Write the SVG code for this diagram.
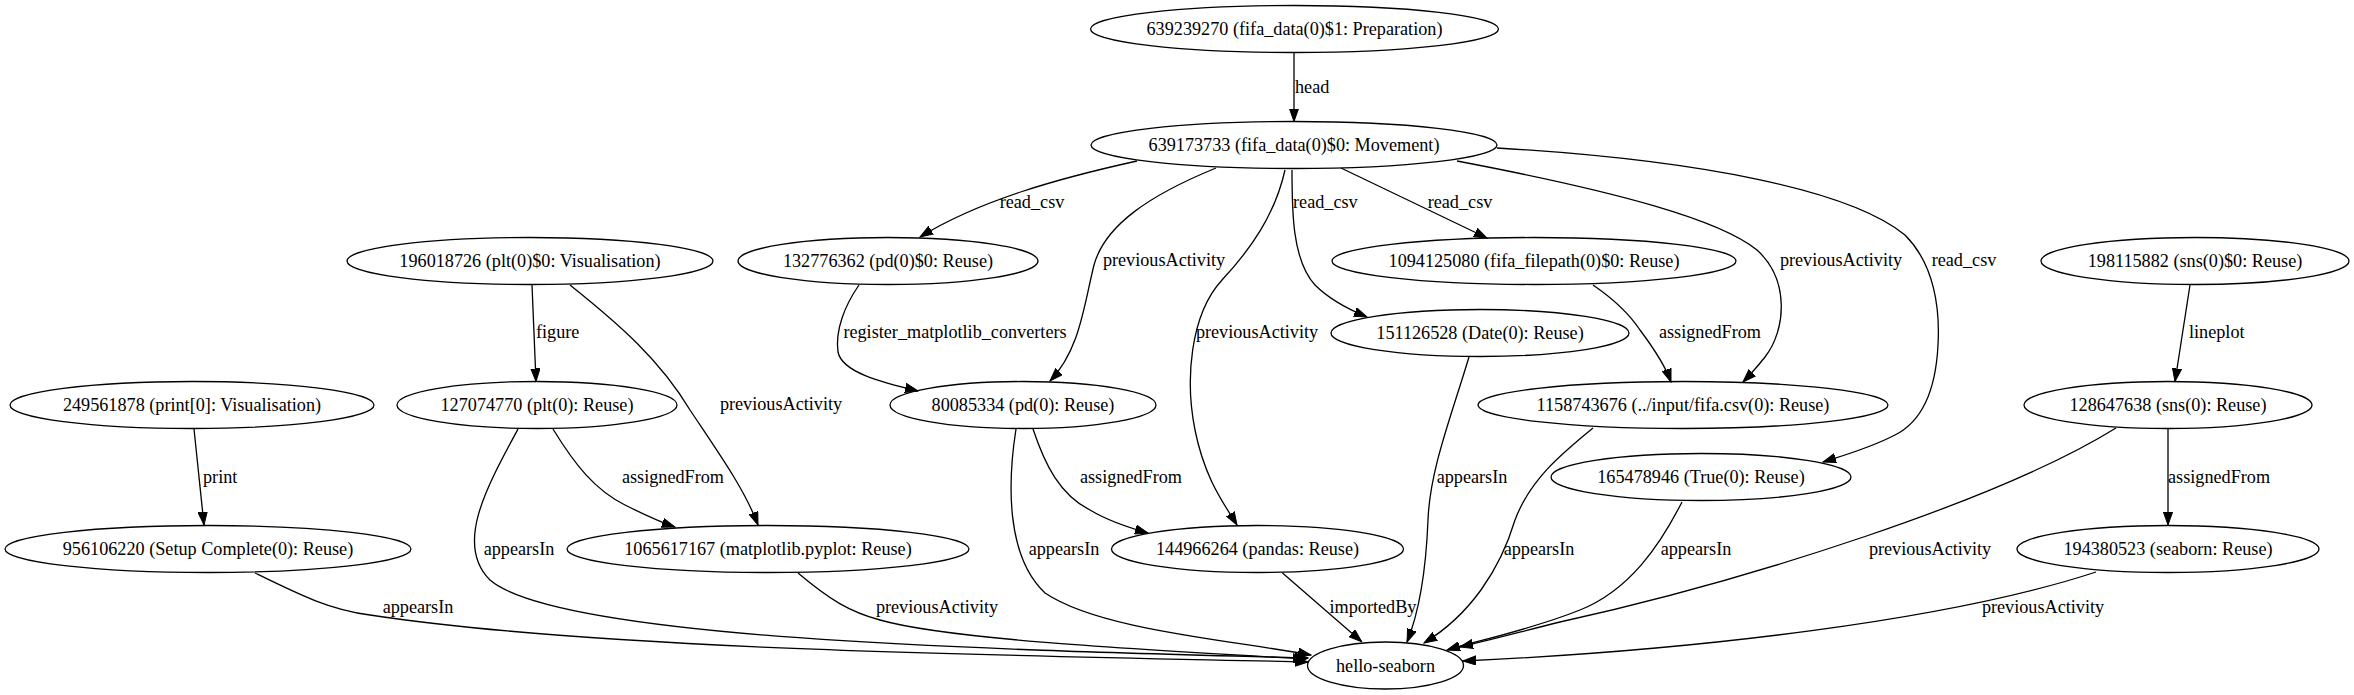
<svg xmlns="http://www.w3.org/2000/svg" width="2354" height="695" viewBox="0 0 2354 695">
<defs>
<style>
.n ellipse{fill:none;stroke:#000;stroke-width:1.3}
text{font-family:"Liberation Serif","Times New Roman",serif;font-size:18.2px;fill:#000}
.n text{text-anchor:middle}
.e path{fill:none;stroke:#000;stroke-width:1.3;marker-end:url(#arr)}
.c{text-anchor:middle}
</style>
<marker id="arr" markerWidth="14" markerHeight="10" refX="13" refY="5" orient="auto" markerUnits="userSpaceOnUse"><path d="M0,0.4 L13,5 L0,9.6 z" fill="#000" stroke="#000" stroke-width="1"/></marker>
</defs>
<rect width="2354" height="695" fill="#fff"/>
<g id="edges" class="e">
<path d="M1294,53 L1294,121.5"/>
<text x="1295" y="93">head</text>
<path d="M1137,161 C1060,178 980,200 920,237"/>
<text class="c" x="1032" y="208">read_csv</text>
<path d="M1216,168 C1150,195 1105,225 1094,265 C1084,305 1080,350 1050,381"/>
<text class="c" x="1164" y="266">previousActivity</text>
<path d="M1285,170 C1275,215 1250,250 1222,280 C1190,315 1185,380 1195,430 C1205,480 1225,505 1237,525"/>
<text class="c" x="1257" y="338">previousActivity</text>
<path d="M1292,170 C1292,210 1292,260 1315,285 C1330,300 1350,310 1367,317"/>
<text x="1293" y="208">read_csv</text>
<path d="M1341,168 L1487,238"/>
<text class="c" x="1460" y="208">read_csv</text>
<path d="M1457,161 C1620,192 1720,220 1757,250 C1790,280 1786,330 1765,357 C1757,367 1750,375 1743,382"/>
<text class="c" x="1841" y="266">previousActivity</text>
<path d="M1497,148 C1700,160 1850,190 1905,235 C1935,265 1940,310 1938,345 C1936,385 1925,420 1895,435 C1870,448 1845,455 1823,462"/>
<text class="c" x="1964" y="266">read_csv</text>
<path d="M859,285 C845,305 835,330 838,352 C842,372 880,382 918,391"/>
<text class="c" x="955" y="338">register_matplotlib_converters</text>
<path d="M1593,285 C1615,300 1630,315 1640,330 C1655,350 1665,365 1671,382"/>
<text class="c" x="1710" y="338">assignedFrom</text>
<path d="M2190,285 L2175,381.5"/>
<text x="2189" y="338">lineplot</text>
<path d="M532,285 L536,381.5"/>
<text x="536" y="338">figure</text>
<path d="M570,285 C620,325 660,360 690,410 C720,455 745,490 758,525"/>
<text class="c" x="781" y="410">previousActivity</text>
<path d="M194,429 L204,525"/>
<text x="203" y="483">print</text>
<path d="M553,429 C575,465 595,490 625,505 C645,515 660,522 675,527"/>
<text class="c" x="673" y="483">assignedFrom</text>
<path d="M518,429 C485,490 455,545 490,580 C560,640 1000,650 1308,658"/>
<text class="c" x="519" y="555">appearsIn</text>
<path d="M255,573 C300,595 330,610 370,615 C600,650 1000,655 1308,662"/>
<text class="c" x="418" y="613">appearsIn</text>
<path d="M798,573 C830,600 850,612 880,620 C950,640 1150,650 1306,659"/>
<text class="c" x="937" y="613">previousActivity</text>
<path d="M1033,429 C1045,465 1060,495 1090,510 C1110,522 1130,528 1148,533"/>
<text class="c" x="1131" y="483">assignedFrom</text>
<path d="M1016,429 C1008,480 1005,555 1045,593 C1100,630 1230,640 1311,655"/>
<text class="c" x="1064" y="555">appearsIn</text>
<path d="M1282.5,573 L1361.7,641.7"/>
<text class="c" x="1373" y="613">importedBy</text>
<path d="M1469,357 C1450,420 1430,470 1428,520 C1426,570 1420,610 1407,642"/>
<text class="c" x="1472" y="483">appearsIn</text>
<path d="M1593,428 C1560,455 1530,480 1515,520 C1500,570 1470,615 1424,643"/>
<text class="c" x="1539" y="555">appearsIn</text>
<path d="M1682,502 C1660,545 1630,590 1580,610 C1530,630 1480,640 1447,650"/>
<text class="c" x="1696" y="555">appearsIn</text>
<path d="M2116,428 C2000,500 1750,580 1560,622 C1520,632 1490,640 1460,647"/>
<text class="c" x="1930" y="555">previousActivity</text>
<path d="M2168,429 L2168,525"/>
<text x="2168" y="483">assignedFrom</text>
<path d="M2096,572 C1950,620 1700,650 1463,661"/>
<text class="c" x="2043" y="613">previousActivity</text>
</g>
<g id="n1" class="n"><ellipse cx="1294.5" cy="29" rx="204" ry="23.5"/><text x="1294.5" y="35">639239270 (fifa_data(0)$1: Preparation)</text></g>
<g id="n2" class="n"><ellipse cx="1294" cy="145" rx="203" ry="23.5"/><text x="1294" y="151">639173733 (fifa_data(0)$0: Movement)</text></g>
<g id="n3" class="n"><ellipse cx="530" cy="261" rx="183" ry="23.5"/><text x="530" y="267">196018726 (plt(0)$0: Visualisation)</text></g>
<g id="n4" class="n"><ellipse cx="888" cy="261" rx="150" ry="23.5"/><text x="888" y="267">132776362 (pd(0)$0: Reuse)</text></g>
<g id="n5" class="n"><ellipse cx="1534" cy="261" rx="202" ry="23.5"/><text x="1534" y="267">1094125080 (fifa_filepath(0)$0: Reuse)</text></g>
<g id="n6" class="n"><ellipse cx="2195" cy="261" rx="154" ry="23.5"/><text x="2195" y="267">198115882 (sns(0)$0: Reuse)</text></g>
<g id="n7" class="n"><ellipse cx="1480" cy="333" rx="149" ry="23.5"/><text x="1480" y="339">151126528 (Date(0): Reuse)</text></g>
<g id="n8" class="n"><ellipse cx="192" cy="405" rx="182" ry="23.5"/><text x="192" y="411">249561878 (print[0]: Visualisation)</text></g>
<g id="n9" class="n"><ellipse cx="537" cy="405" rx="140" ry="23.5"/><text x="537" y="411">127074770 (plt(0): Reuse)</text></g>
<g id="n10" class="n"><ellipse cx="1023" cy="405" rx="133" ry="23.5"/><text x="1023" y="411">80085334 (pd(0): Reuse)</text></g>
<g id="n11" class="n"><ellipse cx="1683" cy="405" rx="205" ry="23.5"/><text x="1683" y="411">1158743676 (../input/fifa.csv(0): Reuse)</text></g>
<g id="n12" class="n"><ellipse cx="2168" cy="405" rx="144" ry="23.5"/><text x="2168" y="411">128647638 (sns(0): Reuse)</text></g>
<g id="n13" class="n"><ellipse cx="1701" cy="477" rx="150" ry="23.5"/><text x="1701" y="483">165478946 (True(0): Reuse)</text></g>
<g id="n14" class="n"><ellipse cx="208" cy="549" rx="203" ry="23.5"/><text x="208" y="555">956106220 (Setup Complete(0): Reuse)</text></g>
<g id="n15" class="n"><ellipse cx="768" cy="549" rx="201" ry="23.5"/><text x="768" y="555">1065617167 (matplotlib.pyplot: Reuse)</text></g>
<g id="n16" class="n"><ellipse cx="1257.5" cy="549" rx="146" ry="23.5"/><text x="1257.5" y="555">144966264 (pandas: Reuse)</text></g>
<g id="n17" class="n"><ellipse cx="2168" cy="549" rx="151" ry="23.5"/><text x="2168" y="555">194380523 (seaborn: Reuse)</text></g>
<g id="n18" class="n"><ellipse cx="1385.5" cy="665.5" rx="78" ry="23.5"/><text x="1385.5" y="671.5">hello-seaborn</text></g>
</svg>
